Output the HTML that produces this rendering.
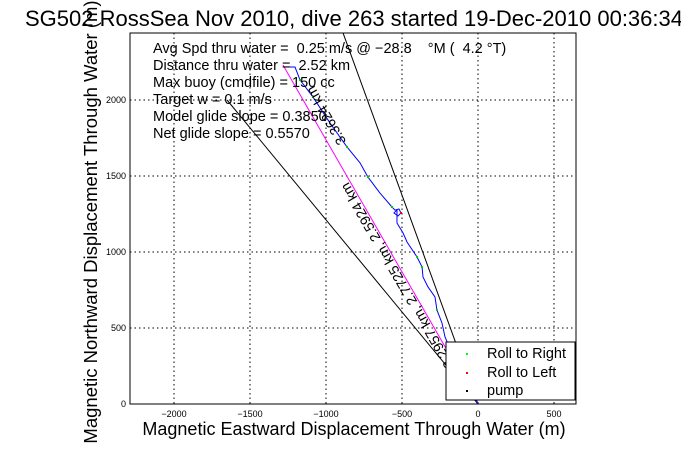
<!DOCTYPE html>
<html><head><meta charset="utf-8"><style>
html,body{margin:0;padding:0;background:#fff;}
svg{display:block;font-family:"Liberation Sans",sans-serif;}
text{white-space:pre;}
</style></head><body>
<svg id="c" width="681" height="454" viewBox="0 0 681 454" xmlns="http://www.w3.org/2000/svg">
<rect width="681" height="454" fill="#fff"/>
<g id="grid"></g>
<g id="plot"></g>
<rect x="130" y="33" width="446" height="371" fill="none" stroke="#000" stroke-width="1"/>
<g id="ticks"></g>
<g font-size="14.5">
<text x="153" y="53">Avg Spd thru water =  0.25 m/s @ −28.8    °M (  4.2 °T)</text>
<text x="153" y="70">Distance thru water =  2.52 km</text>
<text x="153" y="87">Max buoy (cmdfile) = 150 cc</text>
<text x="153" y="104">Target w = 0.1 m/s</text>
<text x="153" y="121">Model glide slope = 0.3850</text>
<text x="153" y="138">Net glide slope = 0.5570</text>
</g>
<text transform="translate(398,275) rotate(240)" font-size="14" text-anchor="middle" dominant-baseline="middle">3.2957 km, 2.7725 km, 2.5924 km</text>
<text transform="translate(327,115) rotate(240)" font-size="14" text-anchor="middle" dominant-baseline="middle">3.3624 km</text>
<g>
<rect x="446" y="342" width="129" height="58" fill="#fff" stroke="#000"/>
<rect x="466" y="353" width="2" height="2" fill="#0f0"/>
<rect x="466" y="372" width="2" height="2" fill="#f00"/>
<rect x="466" y="390" width="2" height="2" fill="#000"/>
<text x="487" y="358" font-size="14.5">Roll to Right</text>
<text x="487" y="377" font-size="14.5">Roll to Left</text>
<text x="487" y="395" font-size="14.5">pump</text>
</g>
<text x="354" y="435" font-size="18" text-anchor="middle">Magnetic Eastward Displacement Through Water (m)</text>
<text transform="translate(97,222) rotate(-90)" font-size="18.5" text-anchor="middle">Magnetic Northward Displacement Through Water (m)</text>
<text x="354" y="26" font-size="22" text-anchor="middle">SG502 RossSea Nov 2010, dive 263 started 19-Dec-2010 00:36:34</text>
</svg>
<script>
const xTicks=[-2000,-1500,-1000,-500,0,500];
const yTicks=[0,500,1000,1500,2000];
const leftLine=[[0,0],[-1651,2000]];
const rightLine=[[0,0],[-888,2441]];
const magentaLine=[[0,0],[-1283,2230]];
const trackX=[-1257,-1204,-1171,-1086,-974,-862,-776,-724,-645,-566,-546,-520,-507,-526,-553,-533,-533,-493,-467,-401,-368,-362,-329,-283,-270,-237,-217,-151,-86,0];
const trackY=[2217,2217,2132,2020,1849,1691,1586,1493,1388,1296,1276,1283,1257,1237,1257,1276,1191,1125,1066,967,901,836,770,704,618,533,441,289,125,0];
const rollRightX=[-1171,-1086,-862,-724,-566,-401,-368,-270];
const rollRightY=[2132,2020,1691,1493,1296,967,901,618];
const rollLeftX=[-507];
const rollLeftY=[1257];
const NS="http://www.w3.org/2000/svg";
const X0=130,X1=576,Y0=33,Y1=404,S=0.152;
const sx=v=>478+v*S, sy=v=>404-v*S;
function mk(t,a,p){const e=document.createElementNS(NS,t);for(const k in a)e.setAttribute(k,a[k]);p.appendChild(e);return e;}
const grid=document.getElementById('grid'),plot=document.getElementById('plot'),ticks=document.getElementById('ticks');
xTicks.forEach(v=>{const x=sx(v);
 const g=mk('line',{x1:x,x2:x,y1:Y0,y2:Y1,stroke:'#000','stroke-dasharray':'1.5,3','stroke-width':1},grid);
 
 
 const t=mk('text',{x:x,y:417,'font-size':9,'text-anchor':'middle'},ticks);t.textContent=(v<0?'−':'')+Math.abs(v);
 
 });
yTicks.forEach(v=>{const y=sy(v);
 const g=mk('line',{x1:X0,x2:X1,y1:y,y2:y,stroke:'#000','stroke-dasharray':'1.5,3','stroke-width':1},grid);
 
 
 const t=mk('text',{x:126,y:y+3,'font-size':9,'text-anchor':'end'},ticks);t.textContent=v;
 
 });
function line(pts,col,name){const p=mk('polyline',{points:pts.map(q=>sx(q[0])+','+sy(q[1])).join(' '),fill:'none',stroke:col,'stroke-width':1},plot);
 
 }
line(leftLine,'#000','glide-bound-left');
line(rightLine,'#000','glide-bound-right');
line(magentaLine,'#f0f','net-heading-line');
line(trackX.map((x,i)=>[x,trackY[i]]),'#00f','dive-track');
rollRightX.forEach((x,i)=>{const r=mk('rect',{x:sx(x)-1,y:sy(rollRightY[i])-1,width:2,height:2,fill:'#0c0'},plot);
 
 });
rollLeftX.forEach((x,i)=>{const r=mk('rect',{x:sx(x)-1,y:sy(rollLeftY[i])-1,width:2,height:2,fill:'#f00'},plot);
 
 });
</script>
</body></html>
